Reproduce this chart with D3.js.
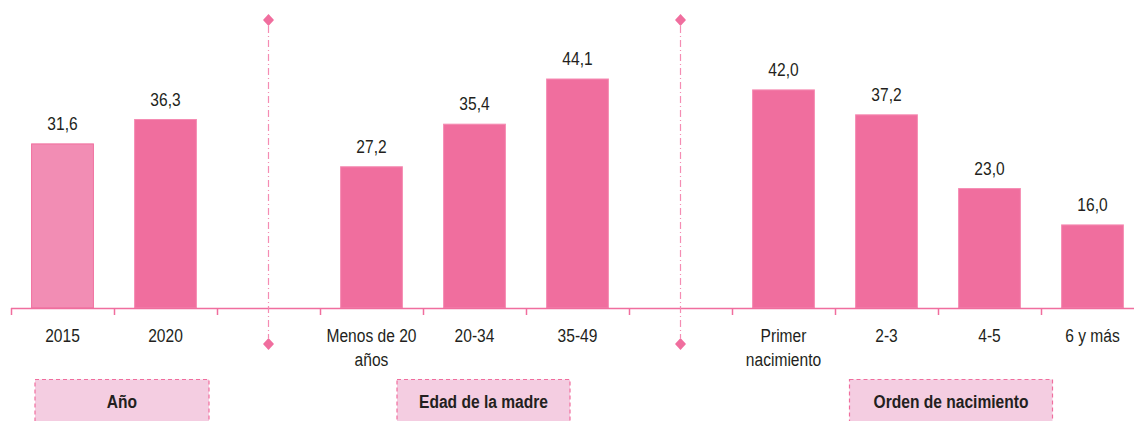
<!DOCTYPE html>
<html>
<head>
<meta charset="utf-8">
<script src="https://cdn.jsdelivr.net/npm/d3@7"></script>
<style>
  body { margin: 0; background: #fff; }
  svg text { font-family: "Liberation Sans Narrow", "Arial Narrow", "Liberation Sans", Arial, sans-serif; fill: #231f20; }
</style>
</head>
<body>
<div id="chart"></div>
<script>
// categories, blank slots are the gaps holding the dividers
const categories = ['2015', '2020', 'gap1', 'Menos de 20|años', '20-34', '35-49', 'gap2', 'Primer|nacimiento', '2-3', '4-5', '6 y más'];
const values = [31.6, 36.3, null, 27.2, 35.4, 44.1, null, 42.0, 37.2, 23.0, 16.0];
const groups = ['Año', 'Edad de la madre', 'Orden de nacimiento'];
const groupSlots = [[0, 1], [3, 5], [7, 10]];
const dividers = ['gap1', 'gap2'];

const W = 1134, H = 421;
const pink = '#f06e9e';
const sx = 0.82;   //// narrow look, the condensed face is not installed

const svg = d3.select('#chart').append('svg')
  .attr('width', W).attr('height', H);

const x = d3.scaleBand()
  .domain(categories)
  .range([11, 11 + 103 * categories.length])
  .paddingInner(0.4).paddingOuter(0.2);

const y = d3.scaleLinear()
  .domain([0, 44.1])
  .range([308, 79]);

const fmt = v => d3.format('.1f')(v).replace('.', ',');

//// bars
const data = categories.map((c, i) => ({ c, v: values[i], i })).filter(d => d.v !== null);

svg.selectAll('rect.bar')
  .data(data)
  .enter().append('rect')
  .attr('class', 'bar')
  .attr('x', d => x(d.c))
  .attr('width', x.bandwidth())
  .attr('y', d => y(d.v))
  .attr('height', d => y(0) - y(d.v))
  .attr('fill', d => d.i === 0 ? '#f28db4' : pink)
  .attr('stroke', d => d.i === 0 ? pink : '#f58cb3')
  .attr('stroke-width', 1);

svg.selectAll('text.val')
  .data(data)
  .enter().append('text')
  .attr('class', 'val')
  .attr('transform', d => `translate(${x(d.c) + x.bandwidth() / 2},${y(d.v) - 14}) scale(${sx},1)`)
  .attr('text-anchor', 'middle')
  .style('font-size', '19px')
  .text(d => fmt(d.v));

//// axis
const step = x.step();
const x0 = x.range()[0];
svg.append('line')
  .attr('x1', x0).attr('x2', W)
  .attr('y1', y(0) + 0.5).attr('y2', y(0) + 0.5)
  .attr('stroke', pink).attr('stroke-width', 1.5);

svg.selectAll('line.tick')
  .data(d3.range(categories.length))
  .enter().append('line')
  .attr('class', 'tick')
  .attr('x1', i => x0 + i * step + 0.5)
  .attr('x2', i => x0 + i * step + 0.5)
  .attr('y1', y(0)).attr('y2', y(0) + 7)
  .attr('stroke', pink).attr('stroke-width', 1.5);

const labels = svg.selectAll('text.cat')
  .data(categories.filter(c => !dividers.includes(c)))
  .enter().append('text')
  .attr('class', 'cat')
  .attr('text-anchor', 'middle')
  .style('font-size', '19px')
  .attr('transform', c => `translate(${x(c) + x.bandwidth() / 2},${y(0) + 34}) scale(${sx},1)`);

labels.selectAll('tspan')
  .data(c => c.split('|'))
  .enter().append('tspan')
  .attr('x', 0)
  .attr('dy', (d, i) => i === 0 ? 0 : 24)
  .text(d => d);

//// dividers
const diamond = 'M0,-6L5.5,0L0,6L-5.5,0Z';
dividers.forEach(c => {
  const cx = x(c) + x.bandwidth() / 2;
  svg.append('line')
    .attr('x1', cx).attr('x2', cx)
    .attr('y1', 26).attr('y2', 338)
    .attr('stroke', '#f58cb3').attr('stroke-width', 1.2)
    .attr('stroke-dasharray', '7,3,1,3');
  [20, 344].forEach(dy => {
    svg.append('path')
      .attr('d', diamond)
      .attr('transform', `translate(${cx},${dy})`)
      .attr('fill', pink);
  });
});

//// group boxes
const boxW = [174, 173, 203];
groups.forEach((g, i) => {
  const [a, b] = groupSlots[i];
  const cx = (x(categories[a]) + x(categories[b]) + x.bandwidth()) / 2 + [8, 9, 13][i];
  svg.append('rect')
    .attr('x', cx - boxW[i] / 2).attr('y', 379.5)
    .attr('width', boxW[i]).attr('height', 50)
    .attr('fill', '#f4cde1')
    .attr('stroke', pink).attr('stroke-width', 1.2)
    .attr('stroke-dasharray', '4,3');
  svg.append('text')
    .attr('transform', `translate(${cx},408) scale(${sx},1)`)
    .attr('text-anchor', 'middle')
    .style('font-size', '19px')
    .style('font-weight', 'bold')
    .text(g);
});
</script>
</body>
</html>
